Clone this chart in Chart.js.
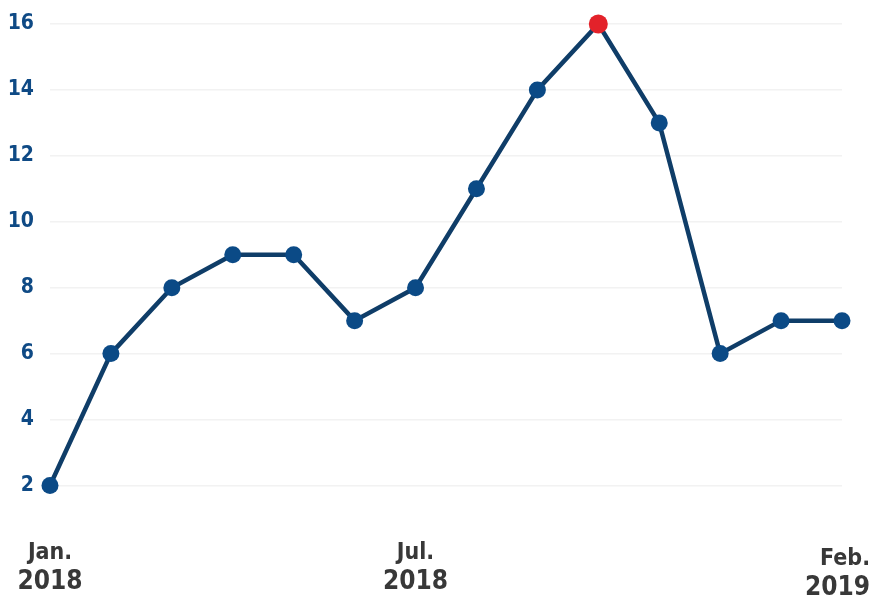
<!DOCTYPE html>
<html>
<head>
<meta charset="utf-8">
<script src="https://cdn.jsdelivr.net/npm/chart.js@4"></script>
<style>
  html, body { margin: 0; padding: 0; background: #fff; }
  #wrap { width: 874px; height: 597px; }
</style>
</head>
<body>
<div id="wrap"><canvas id="chart" width="874" height="597"></canvas></div>
<script>
// monthly values, Jan 2018 .. Feb 2019
const months = ['Jan. 2018', 'Feb. 2018', 'Mar. 2018', 'Apr. 2018', 'May 2018', 'Jun. 2018', 'Jul. 2018',
  'Aug. 2018', 'Sep. 2018', 'Oct. 2018', 'Nov. 2018', 'Dec. 2018', 'Jan. 2019', 'Feb. 2019'];
const values = [2, 6, 8, 9, 9, 7, 8, 11, 14, 16, 13, 6, 7, 7];
const yTicks = [2, 4, 6, 8, 10, 12, 14, 16];
// axis labels that are shown under the chart: [index, month, year]
const xLabels = [[0, 'Jan.', '2018'], [6, 'Jul.', '2018'], [13, 'Feb.', '2019']];

const peak = Math.max(...values);
const ptColors = values.map(v => (v === peak ? '#e3222a' : '#0b4a86'));
const ptRadius = values.map(v => (v === peak ? 9.5 : 8.5));

const FONT = '"DejaVu Sans Condensed", "DejaVu Sans", sans-serif';

// draws the two-line month / year labels below the plot
const xLabelPlugin = {
  id: 'xLabels',
  afterDraw(chart) {
    const ctx = chart.ctx;
    const x = chart.scales.x;
    ctx.save();
    ctx.fillStyle = '#383838';
    ctx.textBaseline = 'middle';
    xLabels.forEach(([i, m, yr], k) => {
      const last = k === xLabels.length - 1;
      let px = x.getPixelForValue(i);
      if (last) { ctx.textAlign = 'right'; px = 870; } else ctx.textAlign = 'center';
      const dy = last ? 6 : 0;
      ctx.font = `bold 23px ${FONT}`;
      ctx.fillText(m, px, 553 + dy);
      ctx.font = `bold 26px ${FONT}`;
      ctx.fillText(yr, px, 582 + dy);
    });
    ctx.restore();
  }
};

new Chart(document.getElementById('chart').getContext('2d'), {
  type: 'line',
  data: {
    labels: months,
    datasets: [{
      data: values,
      borderColor: '#0f3d68',
      borderWidth: 4.5,
      tension: 0,
      pointBackgroundColor: ptColors,
      pointBorderColor: ptColors,
      pointBorderWidth: 0,
      pointRadius: ptRadius,
      pointHoverRadius: ptRadius,
      clip: false,
    }]
  },
  options: {
    responsive: false,
    animation: false,
    events: [],
    layout: { padding: { top: 24, right: 32, bottom: 72, left: 0 } },
    plugins: { legend: { display: false }, tooltip: { enabled: false } },
    scales: {
      x: {
        offset: false,
        ticks: { display: false },
        grid: { display: false },
        border: { display: false },
        afterFit: (s) => { s.height = 0; s.paddingLeft = 0; s.paddingRight = 0; },
      },
      y: {
        min: 0.8,
        max: 16,
        afterBuildTicks: (s) => { s.ticks = yTicks.map(v => ({ value: v })); },
        afterFit: (s) => { s.width = 50; s.paddingTop = 0; s.paddingBottom = 0; },
        ticks: {
          color: '#0f4a85',
          padding: 16,
          font: { family: FONT, size: 21, weight: 'bold' },
        },
        grid: { color: '#f2f2f2', lineWidth: 1.5, drawTicks: false },
        border: { display: false },
      }
    }
  },
  plugins: [xLabelPlugin]
});
</script>
</body>
</html>
